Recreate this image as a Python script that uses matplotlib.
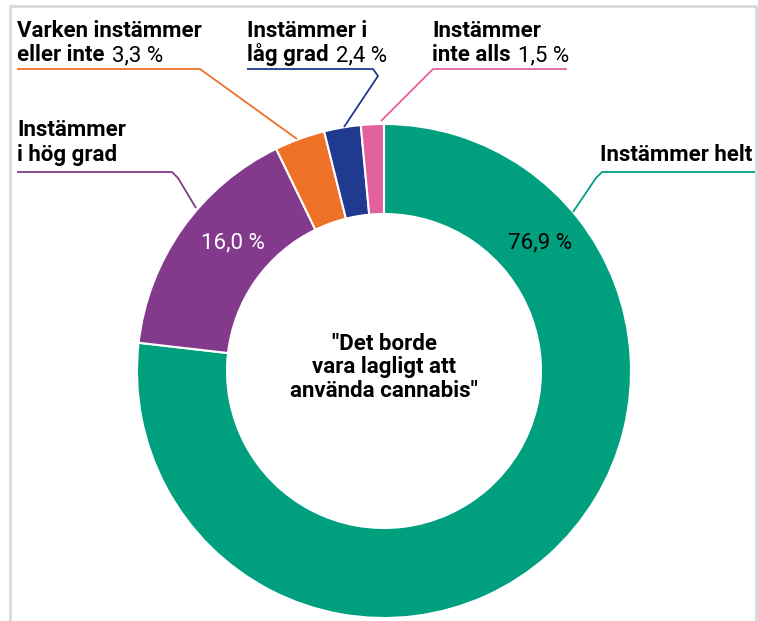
import matplotlib.pyplot as plt

# andelar, medurs från toppen
kategorier = ["Instämmer helt", "Instämmer i hög grad", "Varken instämmer eller inte",
              "Instämmer i låg grad", "Instämmer inte alls"]
andelar = [76.9, 16.0, 3.3, 2.4, 1.5]
farger = ["#00a07f", "#833a8c", "#ee7127", "#203a8f", "#e3609f"]

H = 621
plt.rcParams['font.family'] = ["Roboto", "DejaVu Sans"]

fig = plt.figure(figsize=(7.58, 6.21), dpi=100)
ax = fig.add_axes([0, 0, 1, 1])

cx, cy, R = 384, H - 371, 247
ax.pie(andelar, colors=farger, startangle=90, counterclock=False,
       center=(cx, cy), radius=R,
       wedgeprops=dict(width=90, edgecolor="white", linewidth=1.5))
ax.set_xlim(0, 758)
ax.set_ylim(0, H)
ax.set_aspect("auto")
ax.axis("off")

# ram
ax.plot([10, 10, 756, 756], [0, H - 6, H - 6, 0], color="#d9d9d9", lw=2, clip_on=False)

def pct(v):
    return f"{v:.1f}".replace(".", ",") + " %"

# värden i ringen
ax.text(540, H - 243, pct(andelar[0]), fontsize=16, color="black", ha="center", va="center")
ax.text(233, H - 243, pct(andelar[1]), fontsize=16, color="white", ha="center", va="center")

# mitttext (baslinje = sista raden)
ax.text(cx, H - 397, '"Det borde\nvara lagligt att\nanvända cannabis"', fontsize=16,
        fontweight="bold", ha="center", va="baseline", linespacing=1.1)

# hänvisningslinjer (pixelkoordinater)
linjer = [
    ([755, 602, 596, 573], [172, 172, 178, 212], farger[0]),
    ([17, 172, 178, 196], [172, 172, 178, 208], farger[1]),
    ([17, 200, 297], [69, 69, 139], farger[2]),
    ([247, 373, 378, 344], [69, 69, 76, 127], farger[3]),
    ([567, 433, 381], [69, 69, 121], farger[4]),
]
for xs, ys, c in linjer:
    ax.plot(xs, [H - y for y in ys], color=c, lw=1.3, solid_capstyle="butt")

fig.canvas.draw()
r = fig.canvas.get_renderer()

def etikett(x, y, fet, vanlig=None, fs=16):
    t = ax.text(x, H - y, fet, fontsize=fs, fontweight="bold", ha="left", va="baseline")
    if vanlig:
        bb = t.get_window_extent(renderer=r)
        ax.text(bb.x1 + 7, H - y, vanlig, fontsize=fs, ha="left", va="baseline")

etikett(17, 37, "Varken instämmer")
etikett(17, 61, "eller inte", pct(andelar[2]))
etikett(247, 37, "Instämmer i")
etikett(247, 61, "låg grad", pct(andelar[3]))
etikett(432, 37, "Instämmer")
etikett(432, 61, "inte alls", pct(andelar[4]))
etikett(17, 136, "Instämmer")
etikett(17, 161, "i hög grad")
etikett(600, 161, "Instämmer helt")

fig.savefig("out.png", dpi=100)
